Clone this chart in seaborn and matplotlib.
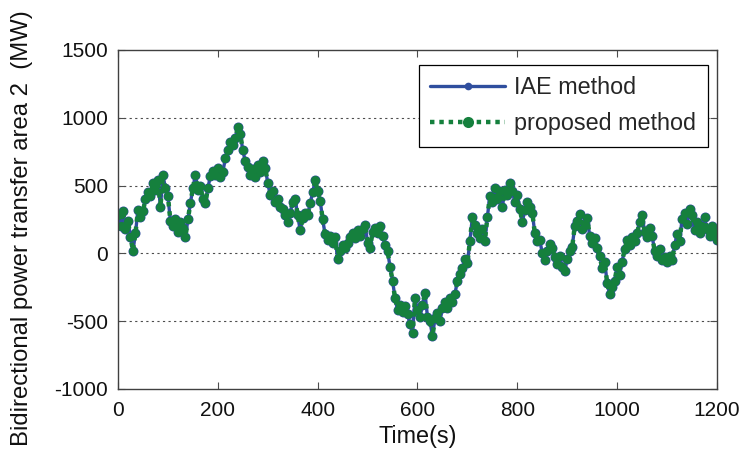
import numpy as np
import pandas as pd
import matplotlib
matplotlib.use("Agg")
import matplotlib.pyplot as plt
import seaborn as sns

# Sample times (s)
time_s = list(range(0, 1201, 5))

# Bidirectional power transfer of area 2 (MW), IAE-tuned controller
iae_mw = [
    280, 200, 310, 180, 240, 120, 20, 150, 320, 270,
    310, 400, 450, 420, 520, 470, 540, 340, 580, 480,
    420, 240, 200, 250, 160, 230, 190, 120, 250, 370,
    480, 580, 470, 500, 400, 370, 480, 570, 610, 580,
    630, 560, 600, 700, 760, 820, 800, 850, 930, 880,
    760, 680, 640, 580, 620, 560, 650, 600, 680, 630,
    520, 430, 460, 380, 400, 340, 330, 280, 230, 300,
    380, 400, 280, 170, 260, 300, 280, 370, 450, 540,
    460, 390, 250, 140, 100, 130, 80, 120, -40, 20,
    60, 40, 80, 120, 150, 110, 170, 130, 180, 210,
    80, 40, 160, 190, 150, 200, 130, 60, 20, -100,
    -200, -330, -420, -380, -430, -390, -450, -520, -590, -330,
    -420, -470, -380, -290, -470, -500, -610, -480, -440, -500,
    -400, -360, -400, -330, -360, -300, -200, -150, -110, -40,
    -70, 90, 270, 210, 150, 110, 180, 90, 270, 420,
    380, 480, 400, 460, 340, 470, 430, 520, 460, 380,
    430, 330, 230, 320, 380, 340, 300, 150, 90, 100,
    0, -50, 20, 70, 40, -30, -80, -20, -100, -130,
    -40, 20, 50, 200, 240, 290, 180, 220, 260, 130,
    80, 110, 40, -20, -110, -60, -220, -300, -250, -200,
    -100, -160, -60, 30, 100, 60, 120, 90, 150, 230,
    280, 160, 120, 190, 130, 20, -20, 30, -50, -30,
    -60, -20, -50, 60, 140, 90, 250, 300, 220, 330,
    280, 170, 230, 150, 200, 270, 180, 130, 200, 160,
    100,
]

# Proposed controller: response coincides with the IAE-tuned one
proposed_mw = list(iae_mw)

y_ticks = [-1000, -500, 0, 500, 1000, 1500]
x_ticks = [0, 200, 400, 600, 800, 1000, 1200]

df = pd.DataFrame({"t": time_s, "iae": iae_mw, "proposed": proposed_mw})

sns.set_style("white")
plt.rcParams["font.family"] = ["Liberation Sans", "DejaVu Sans"]

fig = plt.figure(figsize=(7.45, 4.57), dpi=100)
ax = fig.add_axes([0.1584, 0.1488, 0.8040, 0.7418])

blue = "#2f4e9e"
green = "#15803d"

sns.lineplot(data=df, x="t", y="iae", ax=ax, color=blue, linewidth=2.4,
             marker="o", markersize=7.2, markeredgewidth=0,
             label="IAE method")
sns.lineplot(data=df, x="t", y="proposed", ax=ax, color=green, linewidth=3.2,
             linestyle=(0, (1, 1.1)), marker="o", markersize=6.4,
             markeredgewidth=0, label="proposed method")

ax.set_xlim(0, 1200)
ax.set_ylim(-1000, 1500)
ax.set_xticks(x_ticks)
ax.set_yticks(y_ticks)
ax.set_xticklabels([str(v) for v in x_ticks])
ax.set_yticklabels([str(v) for v in y_ticks])

ax.tick_params(direction="in", length=5, width=0.8, color="0.3",
               labelsize=15, labelcolor="#111111",
               top=True, right=True, bottom=True, left=True)
ax.tick_params(axis="x", pad=9)
ax.tick_params(axis="y", pad=7)

# dotted horizontal grid
for yv in y_ticks[1:-1]:
    ax.axhline(yv, color="0.3", linewidth=0.8, linestyle=(0, (2, 3)), zorder=0)

for sp in ax.spines.values():
    sp.set_color("0.25")
    sp.set_linewidth(1.0)

ax.set_xlabel("Time(s)", fontsize=16.8, color="#111111", labelpad=3)
ax.set_ylabel("Bidirectional power transfer area 2  (MW)", fontsize=17.2,
              color="#111111")
ax.yaxis.set_label_coords(-0.142, 0.475)

leg = ax.legend(loc="upper right", bbox_to_anchor=(0.985, 0.957),
                borderaxespad=0, fontsize=16.8, handlelength=3.2,
                frameon=True, fancybox=False, edgecolor="black",
                framealpha=1, borderpad=0.5, labelspacing=0.55,
                handletextpad=0.4)
leg.get_frame().set_linewidth(0.9)
handles = leg.get_lines()
handles[0].set_markersize(5.5)
handles[1].set_markersize(8)

fig.savefig("out.png", dpi=100)
